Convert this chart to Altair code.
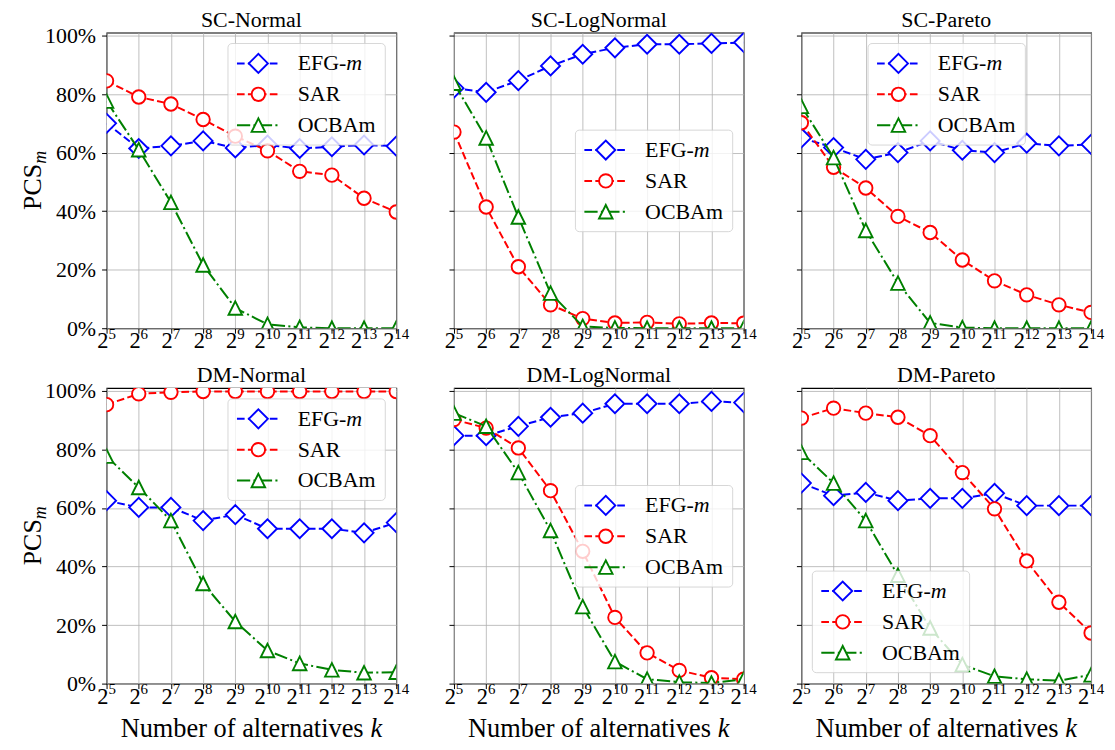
import altair as alt
import pandas as pd

# ---------------- data ----------------
exponents = [5, 6, 7, 8, 9, 10, 11, 12, 13, 14]
panel_titles = ["SC-Normal", "SC-LogNormal", "SC-Pareto",
                "DM-Normal", "DM-LogNormal", "DM-Pareto"]
series_names = ["EFG-m", "SAR", "OCBAm"]
y_ticks = [0, 0.2, 0.4, 0.6, 0.8, 1.0]

# values in percent
sc_normal_efg = [70.0, 61.4, 62.3, 64.0, 61.6, 62.6, 61.4, 62.0, 62.6, 62.2]
sc_normal_sar = [84.5, 79.0, 76.6, 71.3, 65.6, 60.6, 53.6, 52.3, 44.4, 39.7]
sc_normal_ocba = [77.6, 61.0, 43.0, 21.6, 6.9, 1.3, 0.3, 0.0, 0.0, 0.0]

sc_lognormal_efg = [82.0, 80.6, 84.6, 89.6, 93.6, 95.8, 97.0, 97.0, 97.3, 97.6]
sc_lognormal_sar = [67.0, 41.4, 21.0, 8.0, 3.3, 1.8, 2.0, 1.5, 1.8, 1.7]
sc_lognormal_ocba = [83.7, 65.0, 38.0, 12.0, 0.6, 0.1, 0.0, 0.0, 0.0, 0.0]

sc_pareto_efg = [65.0, 61.7, 57.7, 60.0, 64.0, 60.8, 60.0, 63.2, 62.3, 62.8]
sc_pareto_sar = [70.2, 55.0, 47.9, 38.2, 32.7, 23.3, 16.2, 11.4, 8.0, 5.4]
sc_pareto_ocba = [75.8, 58.3, 33.4, 15.4, 1.8, 0.2, 0.0, 0.0, 0.0, 0.0]

dm_normal_efg = [62.5, 60.2, 60.2, 55.7, 57.7, 52.9, 52.9, 52.9, 51.5, 55.0]
dm_normal_sar = [95.3, 99.0, 99.5, 99.8, 99.8, 99.8, 99.8, 99.8, 99.8, 99.8]
dm_normal_ocba = [77.7, 67.0, 55.7, 34.2, 21.2, 11.3, 6.9, 4.7, 3.7, 3.9]

dm_lognormal_efg = [84.7, 84.7, 87.9, 91.0, 92.4, 95.6, 95.6, 95.6, 96.4, 96.0]
dm_lognormal_sar = [90.2, 87.3, 80.5, 65.9, 45.2, 22.6, 10.5, 4.5, 2.0, 1.5]
dm_lognormal_ocba = [92.4, 87.9, 72.1, 52.3, 26.3, 7.5, 1.5, 0.5, 0.2, 1.5]

dm_pareto_efg = [68.5, 64.2, 65.3, 62.5, 63.3, 63.3, 65.0, 60.8, 60.8, 60.8]
dm_pareto_sar = [90.7, 94.1, 92.4, 91.0, 84.7, 72.1, 59.7, 41.9, 27.8, 17.3]
dm_pareto_ocba = [79.0, 68.5, 55.7, 37.0, 19.0, 6.5, 2.5, 1.5, 1.0, 3.0]

panels_data = [
    (sc_normal_efg, sc_normal_sar, sc_normal_ocba),
    (sc_lognormal_efg, sc_lognormal_sar, sc_lognormal_ocba),
    (sc_pareto_efg, sc_pareto_sar, sc_pareto_ocba),
    (dm_normal_efg, dm_normal_sar, dm_normal_ocba),
    (dm_lognormal_efg, dm_lognormal_sar, dm_lognormal_ocba),
    (dm_pareto_efg, dm_pareto_sar, dm_pareto_ocba),
]

# ---------------- style ----------------
FONT = "Liberation Serif"
W, H = 291, 297
YMAX = 1.01
colors = {"EFG-m": "#0000ff", "SAR": "#ff0000", "OCBAm": "#008000"}
dashes = {"EFG-m": [7.7, 3.3], "SAR": [7.7, 3.3], "OCBAm": [13.3, 3.3, 2.1, 3.3]}
shapes = {"EFG-m": "diamond", "SAR": "circle", "OCBAm": "M0,-1L-1,1L1,1Z"}
sizes = {"EFG-m": 365, "SAR": 182, "OCBAm": 185}
label_parts = {"EFG-m": ("EFG-", "m"), "SAR": ("SAR", ""), "OCBAm": ("OCBAm", "")}
# legend box top-left corner inside each panel (pixels)
legend_pos = [(122, 11), (122, 98), (67, 11), (122, 11), (122, 98), (11, 184)]
LEG_W, LEG_H = 158, 102
LEG_FS = 22


def make_panel(i):
    col, row = i % 3, i // 3
    rows = []
    for name, vals in zip(series_names, panels_data[i]):
        for e, v in zip(exponents, vals):
            rows.append({"exp": e, "value": v / 100.0, "series": name})
    df = pd.DataFrame(rows)

    xenc = alt.X("exp:Q", scale=alt.Scale(domain=[5, 14], nice=False, zero=False),
                 axis=alt.Axis(values=exponents, labels=False, title=None, grid=True,
                               ticks=True, tickSize=5, domain=False))
    yenc = alt.Y("value:Q", scale=alt.Scale(domain=[0, YMAX], nice=False, zero=True),
                 axis=alt.Axis(values=y_ticks, format=".0%", labels=(col == 0), title=None,
                               grid=True, ticks=True, tickSize=5, labelPadding=6,
                               domain=False))

    layers = []
    for name in series_names:
        src = alt.Chart(df).transform_filter(alt.datum.series == name)
        layers.append(src.mark_line(color=colors[name], strokeWidth=2,
                                    strokeDash=dashes[name], clip=True)
                      .encode(x=xenc, y=yenc))
        layers.append(src.mark_point(shape=shapes[name], size=sizes[name], fill="white",
                                     fillOpacity=1, stroke=colors[name], strokeWidth=1.9,
                                     opacity=1, clip=True)
                      .encode(x=xenc, y=yenc))

    # x tick labels as 2^e
    tick_df = pd.DataFrame({"exp": exponents})
    for cond, w_exp in ((alt.datum.exp < 10, 7.5), (alt.datum.exp >= 10, 15.0)):
        total = 11.25 + w_exp
        tsrc = alt.Chart(tick_df).transform_filter(cond)
        layers.append(tsrc.mark_text(text="2", align="left", baseline="alphabetic",
                                     dx=-total / 2, font=FONT, fontSize=22.5,
                                     fontWeight="normal", color="black")
                      .encode(x=xenc, y=alt.value(H + 20)))
        layers.append(tsrc.mark_text(align="left", baseline="alphabetic",
                                     dx=-total / 2 + 11.25, font=FONT, fontSize=15,
                                     fontWeight="normal", color="black")
                      .encode(x=xenc, y=alt.value(H + 10.5), text="exp:N"))

    one = pd.DataFrame({"t": [panel_titles[i]]})
    # panel title
    layers.append(alt.Chart(one).mark_text(align="center", baseline="alphabetic", font=FONT,
                                           fontSize=22, fontWeight="normal", color="black")
                  .encode(x=alt.value(W / 2), y=alt.value(-6), text="t:N"))

    # y title
    if col == 0:
        pcs_w = 1.779 * 26
        tot = pcs_w + 0.722 * 18
        layers.append(alt.Chart(one).mark_text(text="PCS", angle=270, align="left",
                                               baseline="alphabetic", dx=-tot / 2, font=FONT,
                                               fontSize=26, fontWeight="normal", color="black")
                      .encode(x=alt.value(-66), y=alt.value(H / 2)))
        layers.append(alt.Chart(one).mark_text(text="m", angle=270, align="left",
                                               baseline="alphabetic", dx=-tot / 2 + pcs_w,
                                               dy=5, font=FONT, fontSize=18,
                                               fontStyle="italic", color="black")
                      .encode(x=alt.value(-66), y=alt.value(H / 2)))
    # x title
    if row == 1:
        fs = 26.5
        w_main = 9.22 * fs
        w_sp = 0.25 * fs
        tot = w_main + w_sp + 0.444 * fs
        start = W / 2 - tot / 2
        layers.append(alt.Chart(one).mark_text(text="Number of alternatives", align="left",
                                               baseline="alphabetic", font=FONT, fontSize=fs,
                                               fontWeight="normal", color="black")
                      .encode(x=alt.value(start), y=alt.value(H + 54)))
        layers.append(alt.Chart(one).mark_text(text="k", align="left", baseline="alphabetic",
                                               font=FONT, fontSize=fs, fontStyle="italic",
                                               color="black")
                      .encode(x=alt.value(start + w_main + w_sp), y=alt.value(H + 54)))

    # legend
    bx, by = legend_pos[i]
    layers.append(alt.Chart(one).mark_rect(cornerRadius=4, fill="white", fillOpacity=0.8,
                                           stroke="#cccccc", strokeOpacity=0.8, strokeWidth=1)
                  .encode(x=alt.value(bx), x2=alt.value(bx + LEG_W),
                          y=alt.value(by), y2=alt.value(by + LEG_H)))
    for j, name in enumerate(series_names):
        yy = by + 20 + 31 * j
        ldf = pd.DataFrame({"a": [label_parts[name][0]], "b": [label_parts[name][1]]})
        lsrc = alt.Chart(ldf)
        layers.append(lsrc.mark_rule(color=colors[name], strokeWidth=2,
                                     strokeDash=dashes[name])
                      .encode(x=alt.value(bx + 9), x2=alt.value(bx + 52), y=alt.value(yy)))
        layers.append(lsrc.mark_point(shape=shapes[name], size=sizes[name], fill="white",
                                      fillOpacity=1, stroke=colors[name], strokeWidth=1.9,
                                      opacity=1)
                      .encode(x=alt.value(bx + 30.5), y=alt.value(yy)))
        layers.append(lsrc.mark_text(align="left", baseline="middle", font=FONT,
                                     fontSize=LEG_FS, fontWeight="normal", color="black")
                      .encode(x=alt.value(bx + 70), y=alt.value(yy), text="a:N"))
        if label_parts[name][1]:
            off = 2.222 * LEG_FS
            layers.append(lsrc.mark_text(align="left", baseline="middle", font=FONT,
                                         fontSize=LEG_FS, fontStyle="italic", color="black")
                          .encode(x=alt.value(bx + 70 + off), y=alt.value(yy), text="b:N"))

    return alt.layer(*layers).properties(width=W, height=H)


panels = [make_panel(i) for i in range(6)]

chart = (
    alt.concat(*panels, columns=3, spacing={"row": 60, "column": 58}, bounds="flush")
    .properties(autosize=alt.AutoSizeParams(type="none"),
                padding={"left": 99, "top": 23, "right": 1005, "bottom": 716})
    .configure_view(stroke="black", strokeWidth=1.1)
    .configure_axis(labelFont=FONT, labelFontSize=22, labelColor="black",
                    tickColor="black", tickWidth=1, gridColor="#b0b0b0", gridWidth=0.8)
)

chart.save("out.html", embed_options={"renderer": "svg", "actions": False})
